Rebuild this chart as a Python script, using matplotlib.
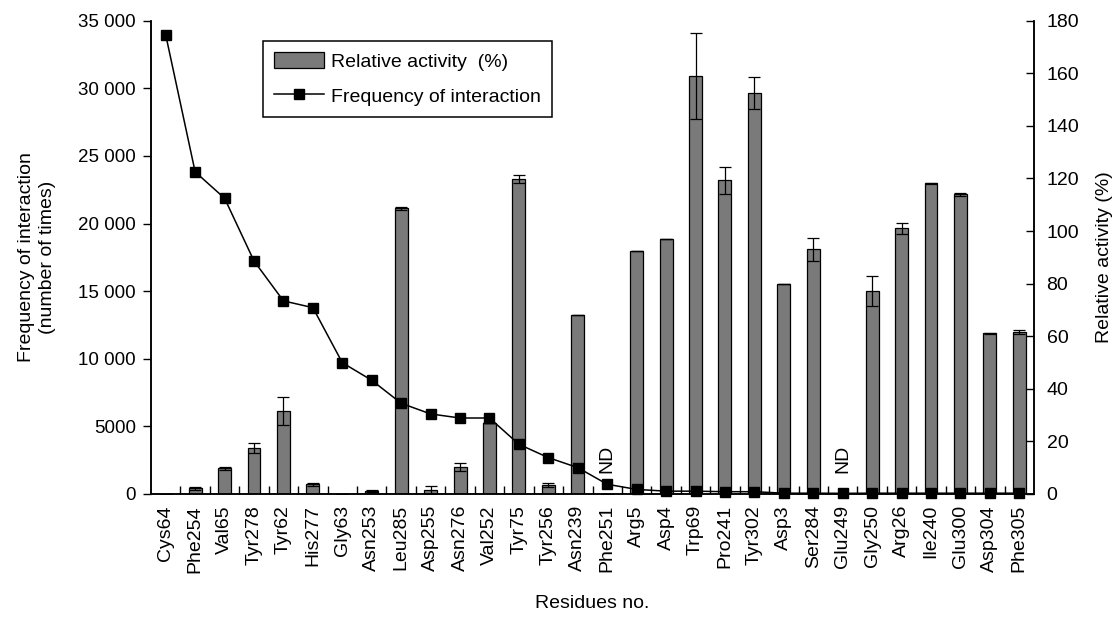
import matplotlib
matplotlib.use("Agg")
import matplotlib.pyplot as plt
from matplotlib.ticker import FixedLocator, FuncFormatter
from matplotlib.patches import Patch
from matplotlib.lines import Line2D
import numpy as np

plt.rcParams['font.family'] = ['Liberation Sans', 'DejaVu Sans']

residues = ["Cys64", "Phe254", "Val65", "Tyr278", "Tyr62", "His277", "Gly63", "Asn253",
            "Leu285", "Asp255", "Asn276", "Val252", "Tyr75", "Tyr256", "Asn239", "Phe251",
            "Arg5", "Asp4", "Trp69", "Pro241", "Tyr302", "Asp3", "Ser284", "Glu249",
            "Gly250", "Arg26", "Ile240", "Glu300", "Asp304", "Phe305"]

frequency = [33950, 23820, 21870, 17230, 14280, 13780, 9710, 8410,
             6710, 5920, 5620, 5620, 3675, 2690, 1950, 720,
             340, 210, 210, 170, 170, 60, 60, 50,
             60, 60, 60, 60, 60, 60]

activity = [0, 2.2, 9.8, 17.4, 31.7, 3.7, 0, 1.2,
            108.6, 1.5, 10.2, 26.9, 119.8, 3.4, 68.1, 0,
            92.4, 97.0, 159.0, 119.3, 152.4, 79.7, 93.0, 0,
            77.2, 101.0, 118.1, 114.0, 61.1, 61.6]

activity_err = [0, 0.5, 0.5, 1.9, 5.3, 0.5, 0, 0.3,
                0.6, 1.5, 1.5, 0, 1.5, 0.8, 0, 0,
                0, 0, 16.2, 5.2, 6.1, 0, 4.4, 0,
                5.7, 2.1, 0.3, 0.5, 0.3, 0.8]

nd_residues = ["Phe251", "Glu249"]

fig = plt.figure(figsize=(11.16, 6.24), dpi=100)
ax = fig.add_axes([151/1116, 1-494/624, (1034-151)/1116, (494-20.7)/624])
ax2 = ax.twinx()

x = np.arange(len(residues))
ax2.bar(x, activity, width=0.44, color='#7a7a7a', edgecolor='black', linewidth=0.9, zorder=2)
ax2.errorbar(x, activity, yerr=activity_err, fmt='none', ecolor='black',
             elinewidth=0.9, capsize=4, capthick=0.9, zorder=3)
for name in nd_residues:
    i = residues.index(name)
    ax2.text(i, 8, "ND", rotation=90, ha='center', va='bottom', fontsize=14)

ax.plot(x, frequency, color='black', linewidth=1.1, marker='s', markersize=7,
        markerfacecolor='black', markeredgecolor='black', clip_on=False, zorder=4)

ax.set_zorder(ax2.get_zorder() + 1)
ax.patch.set_visible(False)

ax.set_xlim(-0.5, len(residues) - 0.5)
ax.set_ylim(0, 35000)
ax2.set_ylim(0, 180)

ax.yaxis.set_major_locator(FixedLocator(np.arange(0, 35001, 5000)))
def fmt(v, pos):
    v = int(v)
    if v >= 10000:
        return f"{v // 1000} {v % 1000:03d}"
    return str(v)
ax.yaxis.set_major_formatter(FuncFormatter(fmt))
ax2.yaxis.set_major_locator(FixedLocator(np.arange(0, 181, 20)))

ax.set_xticks(x)
ax.set_xticklabels(residues, rotation=90, fontsize=14)
ax.set_xticks(np.arange(0.5, len(residues) - 1, 1.0), minor=True)
ax.tick_params(axis='x', which='major', length=0, pad=8)
ax.tick_params(axis='x', which='minor', direction='in', length=6, width=1)
ax.tick_params(axis='y', direction='out', length=6, width=1, labelsize=13.5, pad=5)
ax2.tick_params(axis='y', direction='in', length=6, width=1, labelsize=14, pad=9)

for a in (ax, ax2):
    a.spines['top'].set_visible(False)
    for s in ('left', 'right', 'bottom'):
        a.spines[s].set_linewidth(1.1)

ax.set_ylabel("Frequency of interaction\n(number of times)", fontsize=14, labelpad=16,
              linespacing=1.3)
ax2.set_ylabel("Relative activity (%)", fontsize=14, labelpad=12)
ax.set_xlabel("Residues no.", fontsize=14, labelpad=16)

handles = [Patch(facecolor='#7a7a7a', edgecolor='black', linewidth=0.9),
           Line2D([0], [0], color='black', linewidth=1.1, marker='s', markersize=7)]
labels = ["Relative activity  (%)", "Frequency of interaction"]
leg = ax.legend(handles, labels, loc='upper left', bbox_to_anchor=(0.127, 0.957),
                borderaxespad=0, fancybox=False, edgecolor='black', fontsize=14,
                handlelength=2.6, handleheight=0.9, labelspacing=0.85, borderpad=0.55,
                handletextpad=0.35)
leg.get_frame().set_linewidth(1.1)
leg.get_frame().set_alpha(1)

fig.savefig("out.png", dpi=100)
